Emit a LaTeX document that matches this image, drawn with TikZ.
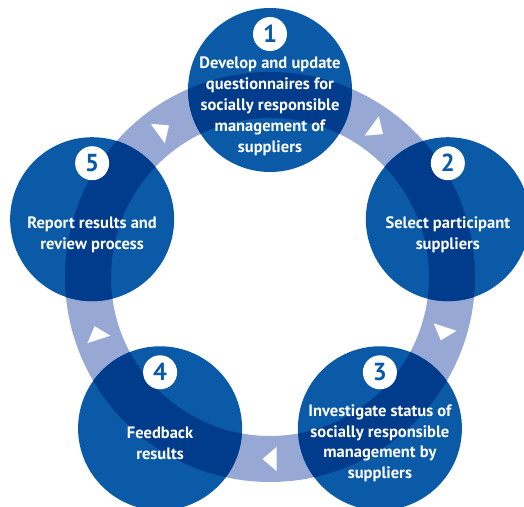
\documentclass[tikz,border=0pt]{standalone}
\usepackage{fontspec}
\setmainfont{PT Sans}
\usepackage{tikz}

\definecolor{stageblue}{HTML}{0A5AA8}
\definecolor{overlapblue}{HTML}{003B8C}
\definecolor{ringblue}{HTML}{98A8D5}

\begin{document}
\begin{tikzpicture}[stage/.style={fill=stageblue,circle,minimum size=3.28cm,inner sep=0pt},
    badge/.style={fill=white,circle,minimum size=0.68cm,inner sep=0pt,text=stageblue,font=\fontsize{14}{14}\selectfont\bfseries},
    caption/.style={text=white,align=center,inner sep=0pt,font=\fontsize{9.4}{11.9}\selectfont\bfseries}]
  \useasboundingbox (-5.4,-4.6) rectangle (5.08,5.54);

  % ring with its arrow heads
  \fill[ringblue,even odd rule] (0,0) circle (4.1) (0,0) circle (3.18);
  \foreach \a in {54,126,198,270,342}
    \fill[white,shift={(\a:3.64)},rotate=\a-90] (0.15,0) -- (-0.13,0.24) -- (-0.13,-0.24) -- cycle;

  \node[stage] (s1) at (90:3.74) {};
  \node[stage] (s2) at (18:3.74) {};
  \node[stage] (s3) at (-54:3.74) {};
  \node[stage] (s4) at (-126:3.74) {};
  \node[stage] (s5) at (162:3.74) {};

  % ring seen through the stages
  \foreach \i in {1,...,5}{
    \begin{scope}
      \clip (s\i.center) circle (1.64);
      \fill[overlapblue,even odd rule] (0,0) circle (4.1) (0,0) circle (3.18);
    \end{scope}
  }

  \node[badge] (b1) at ([yshift=1.12cm]s1.center) {1};
  \node[badge] (b2) at ([yshift=1.12cm]s2.center) {2};
  \node[badge] (b3) at ([yshift=1.12cm]s3.center) {3};
  \node[badge] (b4) at ([yshift=1.12cm]s4.center) {4};
  \node[badge] (b5) at ([yshift=1.12cm]s5.center) {5};

  \node[caption] (t1) at ([yshift=-0.33cm]s1.center) {Develop and update\\questionnaires for\\socially responsible\\management of\\suppliers};
  \node[caption] (t2) at ([yshift=-0.32cm]s2.center) {Select participant\\suppliers};
  \node[caption] (t3) at ([yshift=-0.3cm]s3.center) {Investigate status of\\socially responsible\\management by\\suppliers};
  \node[caption] (t4) at ([yshift=-0.3cm]s4.center) {Feedback\\results};
  \node[caption] (t5) at ([yshift=-0.32cm]s5.center) {Report results and\\review process};
\end{tikzpicture}
\end{document}
